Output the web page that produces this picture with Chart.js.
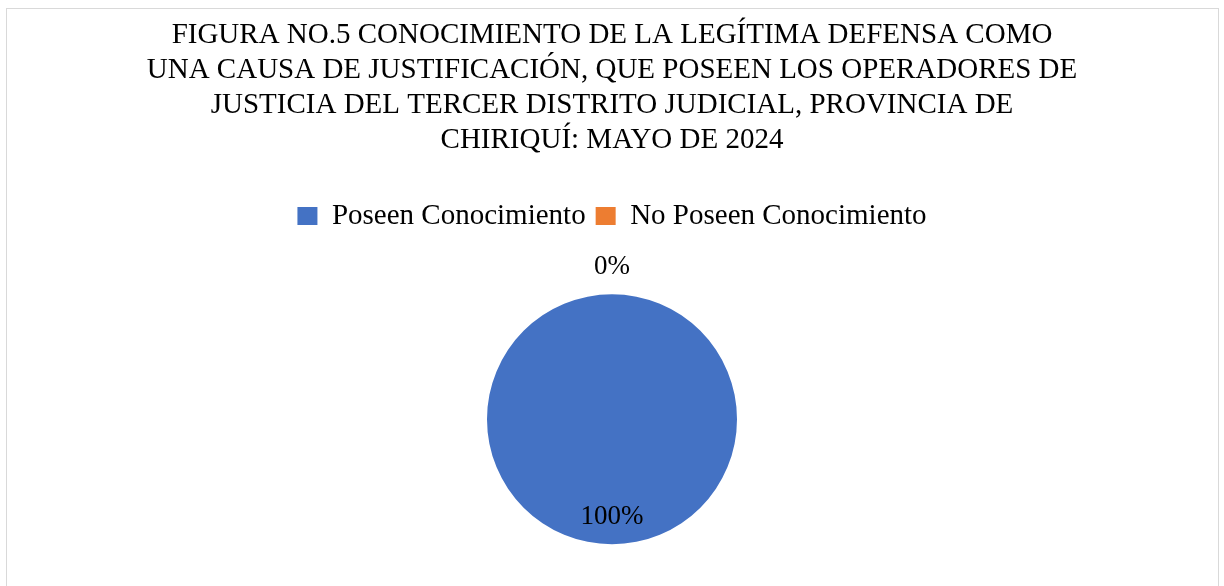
<!DOCTYPE html>
<html>
<head>
<meta charset="utf-8">
<script src="https://cdn.jsdelivr.net/npm/chart.js@4/dist/chart.umd.min.js"></script>
<style>
  body { margin: 0; background: #fff; }
  #frame {
    position: absolute; left: 6px; top: 8px; width: 1211px; height: 600px;
    border: 1.5px solid #d9d9d9; border-bottom: none;
  }
  #wrap { position: absolute; left: 0; top: 0; width: 1224px; height: 586px; }
</style>
</head>
<body>
<div id="frame"></div>
<div id="wrap"><canvas id="pieChart" width="1224" height="586"></canvas></div>
<script>
const titleLines = [
  'FIGURA NO.5 CONOCIMIENTO DE LA LEGÍTIMA DEFENSA COMO',
  'UNA CAUSA DE JUSTIFICACIÓN, QUE POSEEN LOS OPERADORES DE',
  'JUSTICIA DEL TERCER DISTRITO JUDICIAL, PROVINCIA DE',
  'CHIRIQUÍ: MAYO DE 2024'
];
const categories = ['Poseen Conocimiento', 'No Poseen Conocimiento'];
const percentages = [100, 0];
const sliceColors = ['#4472C4', '#ED7D31'];

const serif = "'Liberation Serif', 'Times New Roman', serif";

// add some room under the legend
const legendSpacer = {
  id: 'legendSpacer',
  beforeInit(chart) {
    if (!chart.legend) return;
    const fit = chart.legend.fit;
    chart.legend.fit = function () {
      fit.call(this);
      this.height += 12;
    };
  }
};

// percentage labels: inside for real slices, outside for empty ones
const pctLabels = {
  id: 'pctLabels',
  afterDatasetsDraw(chart) {
    const ctx = chart.ctx;
    const meta = chart.getDatasetMeta(0);
    ctx.save();
    ctx.font = '27px ' + serif;
    ctx.fillStyle = '#000';
    ctx.textAlign = 'center';
    ctx.textBaseline = 'middle';
    meta.data.forEach((arc, i) => {
      const p = arc.getProps(['x', 'y', 'startAngle', 'endAngle', 'outerRadius'], true);
      const mid = (p.startAngle + p.endAngle) / 2;
      const r = percentages[i] > 0 ? p.outerRadius * 0.78 : p.outerRadius + 27;
      ctx.fillText(percentages[i] + '%', p.x + Math.cos(mid) * r, p.y + Math.sin(mid) * r);
    });
    ctx.restore();
  }
};

const ctx = document.getElementById('pieChart').getContext('2d');
new Chart(ctx, {
  type: 'pie',
  data: {
    labels: categories,
    datasets: [{
      data: percentages,
      backgroundColor: sliceColors,
      borderWidth: 0,
      radius: 125
    }]
  },
  options: {
    responsive: false,
    animation: false,
    layout: { padding: 0 },
    plugins: {
      title: {
        display: true,
        text: titleLines,
        color: '#000',
        font: { family: serif, size: 29, weight: 'normal', lineHeight: 35 / 29 },
        padding: { top: 17.5, bottom: 34 }
      },
      legend: {
        position: 'top',
        labels: {
          color: '#000',
          font: { family: serif, size: 29 },
          boxWidth: 20,
          boxHeight: 18,
          padding: 10
        }
      },
      tooltip: { enabled: false }
    }
  },
  plugins: [legendSpacer, pctLabels]
});
</script>
</body>
</html>
